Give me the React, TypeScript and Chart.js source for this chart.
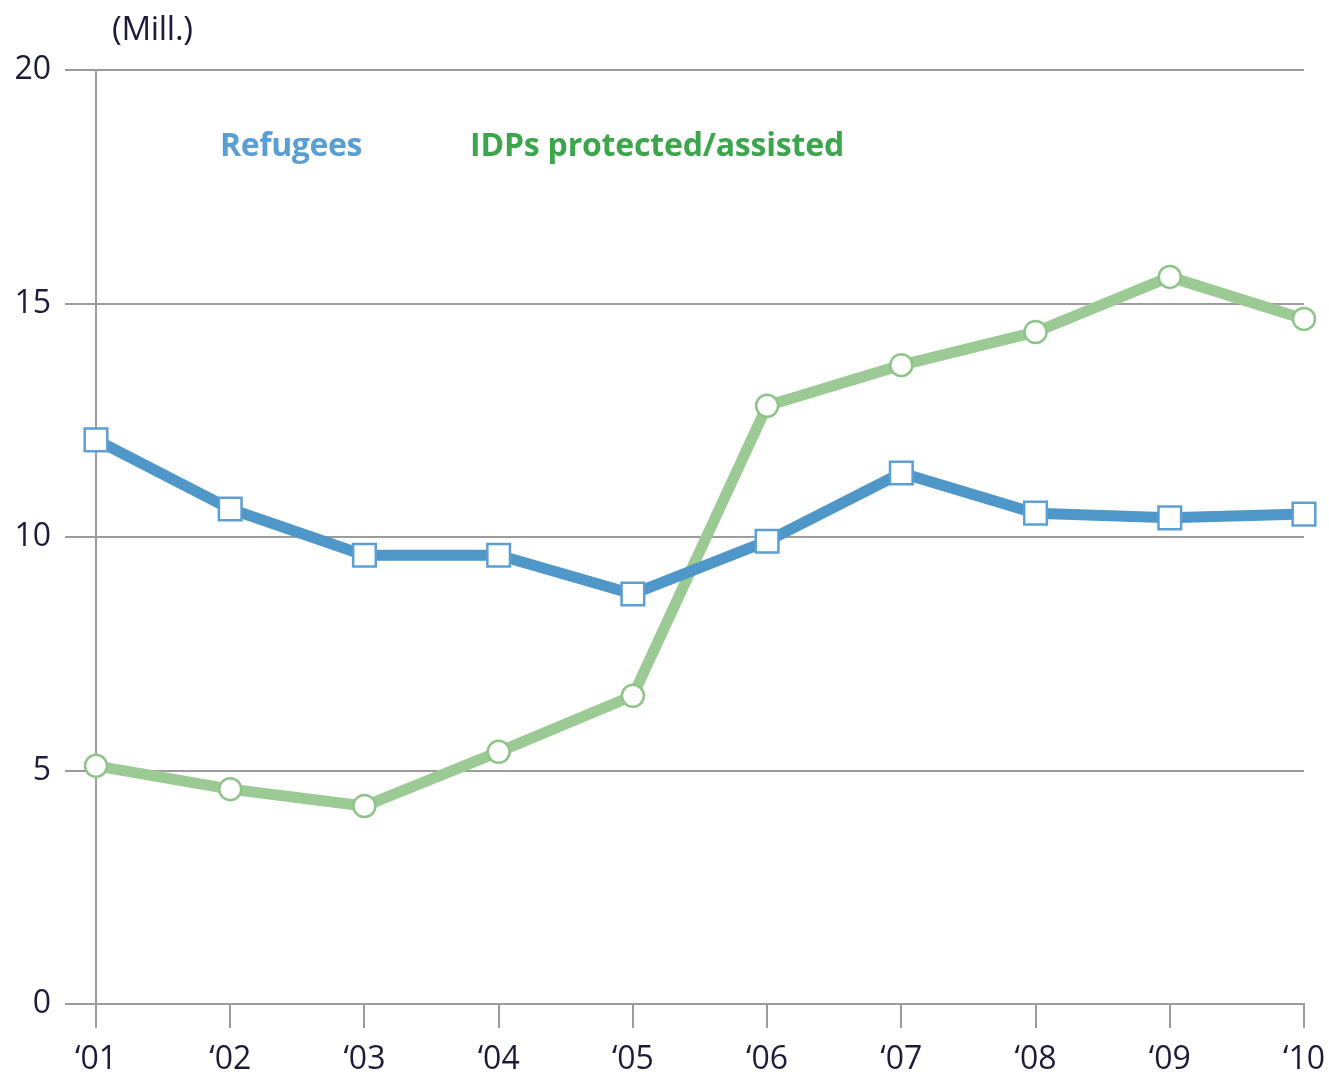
import React, { useEffect, useRef } from "react";
import { Chart, registerables } from "chart.js";

Chart.register(...registerables);

const years = ["‘01", "‘02", "‘03", "‘04", "‘05", "‘06", "‘07", "‘08", "‘09", "‘10"];
const refugees = [12.08, 10.6, 9.61, 9.61, 8.78, 9.91, 11.37, 10.51, 10.41, 10.49];
const idps = [5.1, 4.6, 4.24, 5.4, 6.6, 12.81, 13.68, 14.39, 15.57, 14.67];
const yTicks = [0, 5, 10, 15, 20];

const W = 1329;
const H = 1077;
const FONT = "'Open Sans', 'Noto Sans', sans-serif";
const GRID = "#9c9c9c";
const TEXT = "#1c1c3a";

export default function App() {
  const ref = useRef<HTMLCanvasElement | null>(null);

  useEffect(() => {
    if (!ref.current) return;
    const chart = new Chart(ref.current, {
      type: "line",
      data: {
        labels: years,
        datasets: [
          {
            label: "Refugees",
            data: refugees,
            borderColor: "#4f97c9",
            borderWidth: 11,
            pointStyle: "rect",
            pointRadius: 16,
            pointBorderWidth: 2.5,
            pointBorderColor: "#5c9fd3",
            pointBackgroundColor: "#ffffff",
            tension: 0,
            clip: false,
          },
          {
            label: "IDPs protected/assisted",
            data: idps,
            borderColor: "#9bca94",
            borderWidth: 11,
            pointStyle: "circle",
            pointRadius: 11,
            pointBorderWidth: 2.5,
            pointBorderColor: "#8fc489",
            pointBackgroundColor: "#ffffff",
            tension: 0,
            clip: false,
          },
        ],
      },
      options: {
        animation: false,
        responsive: true,
        maintainAspectRatio: false,
        layout: { padding: { top: 70, right: 25, left: 0, bottom: 0 } },
        plugins: { legend: { display: false }, tooltip: { enabled: false } },
        scales: {
          x: {
            type: "category",
            offset: false,
            grid: {
              drawOnChartArea: false,
              drawTicks: true,
              tickLength: 24,
              color: GRID,
              lineWidth: 2,
            },
            border: { display: true, color: GRID, width: 2 },
            ticks: {
              autoSkip: false,
              maxRotation: 0,
              padding: 13,
              color: TEXT,
              font: { family: FONT, size: 32 },
            },
            afterFit: (s: any) => {
              s.height = H - 1004;
              s.paddingLeft = 0;
              s.paddingRight = 0;
            },
          },
          y: {
            min: 0,
            max: 20,
            afterBuildTicks: (s: any) => {
              s.ticks = yTicks.map((v) => ({ value: v }));
            },
            grid: {
              drawOnChartArea: true,
              drawTicks: true,
              tickLength: 31,
              color: GRID,
              lineWidth: 2,
            },
            border: { display: true, color: GRID, width: 2 },
            ticks: {
              padding: 14,
              color: TEXT,
              font: { family: FONT, size: 32 },
            },
            afterFit: (s: any) => {
              s.width = 96;
            },
          },
        },
      },
    });
    return () => chart.destroy();
  }, []);

  const txt = (extra: React.CSSProperties): React.CSSProperties => ({
    position: "absolute",
    whiteSpace: "nowrap",
    fontFamily: FONT,
    lineHeight: "1",
    ...extra,
  });

  return (
    <div style={{ position: "absolute", left: 0, top: 0, width: W, height: H, background: "#fff" }}>
      <canvas ref={ref} />
      <div style={txt({ left: 112, top: 11, fontSize: 33, color: TEXT, letterSpacing: -0.3 })}>(Mill.)</div>
      <div style={txt({ left: 220, top: 128, fontSize: 32, fontWeight: 700, color: "#5a9fd4", letterSpacing: -0.4 })}>
        Refugees
      </div>
      <div style={txt({ left: 470, top: 128, fontSize: 32, fontWeight: 700, color: "#3ba64c", letterSpacing: -0.2 })}>
        IDPs protected/assisted
      </div>
    </div>
  );
}
